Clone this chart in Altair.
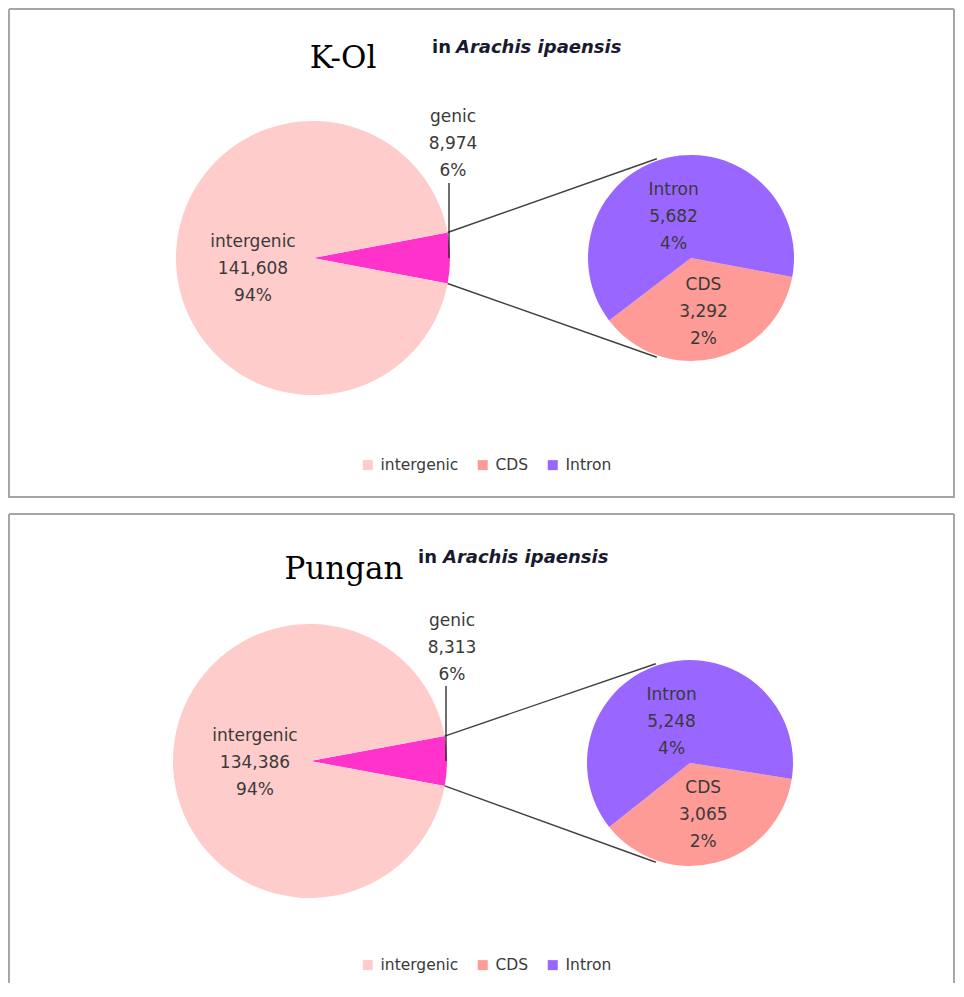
import math
import altair as alt
import pandas as pd

# ---------------- data ----------------
panel_names = ["K-Ol", "Pungan"]
subtitle_in = "in"
subtitle_species = "Arachis ipaensis"

big_categories = ["genic", "intergenic"]
small_categories = ["CDS", "Intron"]
legend_categories = ["intergenic", "CDS", "Intron"]

kol_big_values = [8974, 141608]      # genic, intergenic
kol_small_values = [3292, 5682]      # CDS, Intron
pungan_big_values = [8313, 134386]
pungan_small_values = [3065, 5248]

color_domain = ["intergenic", "genic", "CDS", "Intron"]
color_range = ["#FFCCCC", "#FF33CC", "#FF9B96", "#9966FF"]

# ---------------- styling / layout ----------------
W = 948
LABEL_FONT = "DejaVu Sans"
LABEL_COLOR = "#3A3A3A"
BORDER = "#A6A6A6"
LH = 27

layouts = [
    dict(height=490, title_x=335, title_y=60, in_x=424, in_y=45, sp_x=448,
         big_c=(305, 250), small_c=(683, 250), R=137, r=103, small_start=100.6,
         lab={"intergenic": (60, 0, 11), "genic": (140, 0, -114),
              "Intron": (45, -7, 3), "CDS": (54, 0, 1)},
         legend=(352, 449), bottom_edge=True),
    dict(height=470, title_x=336, title_y=66, in_x=410, in_y=50, sp_x=435,
         big_c=(302, 248), small_c=(682, 250), R=137, r=103, small_start=98.9,
         lab={"intergenic": (55, 0, 2), "genic": (142, 0, -113),
              "Intron": (45, -7, 3), "CDS": (52, 0, 2)},
         legend=(352, 444), bottom_edge=False),
]

color_scale = alt.Scale(domain=color_domain, range=color_range)


def make_legend(lx, ly):
    return alt.Legend(
        title=None, values=legend_categories, orient="none", legendX=lx, legendY=ly,
        direction="horizontal", symbolType="square", symbolSize=100, symbolStrokeWidth=0,
        labelFont=LABEL_FONT, labelFontSize=15.5, labelColor=LABEL_COLOR,
        columnPadding=16, labelOffset=5, padding=0,
    )


def pie(cats, vals, total, center, radius, start_deg, labels_spec, legend):
    df = pd.DataFrame({
        "cat": cats,
        "value": vals,
        "ord": list(range(len(cats))),
        "label": [f"{c}\n{v:,}\n{round(100 * v / total)}%" for c, v in zip(cats, vals)],
    })
    start = math.radians(start_deg)
    tscale = alt.Scale(range=[start, start + 2 * math.pi])
    base = alt.Chart(df)
    arc = base.mark_arc(radius=radius).encode(
        theta=alt.Theta("value:Q", stack=True, scale=tscale),
        color=alt.Color("cat:N", scale=color_scale, legend=legend),
        order=alt.Order("ord:Q"),
        x=alt.value(center[0]), y=alt.value(center[1]),
    )
    layers = [arc]
    for cat in cats:
        lr, dx, dy = labels_spec[cat]
        t = (
            base.transform_window(cum="sum(value)", sort=[alt.SortField("ord")], frame=[None, 0])
            .transform_calculate(mid="datum.cum - datum.value / 2")
            .transform_filter(alt.datum.cat == cat)
            .mark_text(radius=lr, dx=dx, dy=dy - LH, lineBreak="\n", lineHeight=LH,
                       font=LABEL_FONT, fontSize=17, color=LABEL_COLOR,
                       align="center", baseline="middle")
            .encode(theta=alt.Theta("mid:Q", stack=False, scale=tscale), text="label:N",
                    x=alt.value(center[0]), y=alt.value(center[1]))
        )
        layers.append(t)
    return alt.layer(*layers)


one = pd.DataFrame({"k": [0]})


def rule(x1, y1, x2, y2, color, width):
    return alt.Chart(one).mark_rule(color=color, strokeWidth=width).encode(
        x=alt.value(x1), y=alt.value(y1), x2=alt.value(x2), y2=alt.value(y2))


def panel(name, big_vals, small_vals, L):
    total = sum(big_vals)
    cx, cy = L["big_c"]
    sx, sy = L["small_c"]
    R, r = L["R"], L["r"]
    big_start = 90 - 180 * big_vals[0] / total
    legend = make_legend(*L["legend"])

    big = pie(big_categories, big_vals, total, L["big_c"], R, big_start, L["lab"], legend)
    small = pie(small_categories, small_vals, total, L["small_c"], r, L["small_start"], L["lab"], legend)

    h = math.pi * big_vals[0] / total
    p_top = (cx + R * math.cos(h), cy - R * math.sin(h))
    p_bot = (cx + R * math.cos(h), cy + R * math.sin(h))
    a1, a2 = math.radians(341), math.radians(199)
    q_top = (sx + (r + 2) * math.sin(a1), sy - (r + 2) * math.cos(a1))
    q_bot = (sx + (r + 2) * math.sin(a2), sy - (r + 2) * math.cos(a2))

    lines = [
        rule(p_top[0], p_top[1], q_top[0], q_top[1], "#404040", 1.4),
        rule(p_bot[0], p_bot[1], q_bot[0], q_bot[1], "#404040", 1.4),
        rule(cx + R - 1, cy, cx + R - 1, cy - 75, "#202020", 1.3),
    ]

    H = L["height"]
    borders = [
        rule(1, 1, W - 2, 1, BORDER, 2),
        rule(1, 1, 1, H, BORDER, 2),
        rule(W - 2, 1, W - 2, H, BORDER, 2),
    ]
    if L["bottom_edge"]:
        borders.append(rule(1, H - 1, W - 2, H - 1, BORDER, 2))

    title = alt.Chart(pd.DataFrame({"t": [name]})).mark_text(
        font="DejaVu Serif", fontSize=31, color="#000000", align="center", baseline="alphabetic"
    ).encode(text="t:N", x=alt.value(L["title_x"]), y=alt.value(L["title_y"]))
    t_in = alt.Chart(pd.DataFrame({"t": [subtitle_in]})).mark_text(
        font="DejaVu Sans", fontSize=18, fontWeight="bold", color="#1A1A2E", align="left",
        baseline="alphabetic"
    ).encode(text="t:N", x=alt.value(L["in_x"]), y=alt.value(L["in_y"]))
    t_sp = alt.Chart(pd.DataFrame({"t": [subtitle_species]})).mark_text(
        font="DejaVu Sans", fontSize=18, fontWeight="bold", fontStyle="italic", color="#1A1A2E",
        align="left", baseline="alphabetic"
    ).encode(text="t:N", x=alt.value(L["sp_x"]), y=alt.value(L["in_y"]))

    ch = alt.layer(big, small, *lines, *borders, title, t_in, t_sp).resolve_scale(
        theta="independent").properties(width=W, height=H)
    return ch


top = panel(panel_names[0], kol_big_values, kol_small_values, layouts[0])
bottom = panel(panel_names[1], pungan_big_values, pungan_small_values, layouts[1])

chart = (
    alt.vconcat(top, bottom, spacing=14)
    .resolve_scale(color="independent", theta="independent")
    .resolve_legend(color="independent")
    .properties(padding=0)
    .configure_view(stroke=None)
)

chart.save("out.html", embed_options={"renderer": "svg", "actions": False})
